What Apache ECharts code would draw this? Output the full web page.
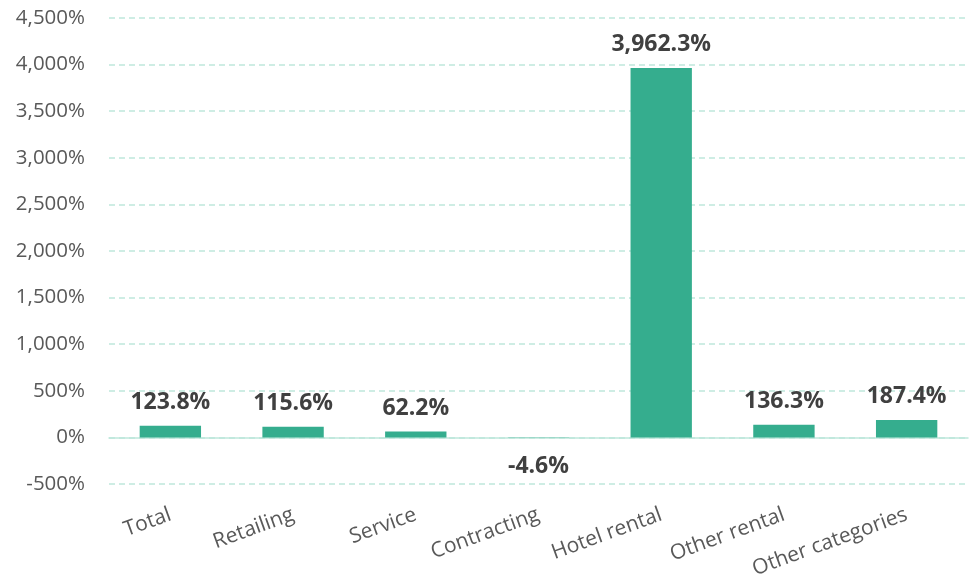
<!DOCTYPE html>
<html><head><meta charset="utf-8">
<script src="https://cdn.jsdelivr.net/npm/echarts@6/dist/echarts.min.js"></script>
<style>html,body{margin:0;padding:0;background:#fff}#c{width:978px;height:584px}</style>
</head><body><div id="c"></div>
<script>
const categories = ["Total","Retailing","Service","Contracting","Hotel rental","Other rental","Other categories"];
const values = [123.8, 115.6, 62.2, -4.6, 3962.3, 136.3, 187.4];
const yMin = -500, yMax = 4500, yStep = 500;

const font = "'Open Sans', 'Noto Sans', sans-serif";
const chart = echarts.init(document.getElementById('c'));
chart.setOption({
  animation: false,
  grid: {left: 109, right: 10, top: 18, bottom: 100, containLabel: false, outerBoundsMode: 'none'},
  xAxis: {
    type: 'category', data: categories,
    axisLine: {show: true, onZero: true, lineStyle: {color: '#bfe8dc', width: 1.5}},
    axisTick: {show: false},
    axisLabel: {interval: 0, rotate: 20, color: '#595959', fontSize: 21, fontFamily: font, margin: 30, align: 'right'}
  },
  yAxis: {
    type: 'value', min: yMin, max: yMax, interval: yStep,
    axisLine: {show: false}, axisTick: {show: false},
    splitLine: {lineStyle: {color: '#bfe8dc', type: [6, 4], width: 1.5}},
    axisLabel: {color: '#595959', fontSize: 20.5, fontFamily: font, margin: 24,
      formatter: v => v.toLocaleString('en-US') + '%'}
  },
  series: [{
    type: 'bar', data: values.map(v => ({value: v, label: {position: v < 0 ? 'bottom' : 'top', distance: v < 0 ? 17 : 12}})),
    barWidth: '50%',
    itemStyle: {color: '#35ad8e'},
    label: {show: true, color: '#404040', fontSize: 23, fontWeight: 'bold', fontFamily: font,
      formatter: p => p.value.toLocaleString('en-US', {minimumFractionDigits: 1, maximumFractionDigits: 1}) + '%'}
  }]
});
</script></body></html>
